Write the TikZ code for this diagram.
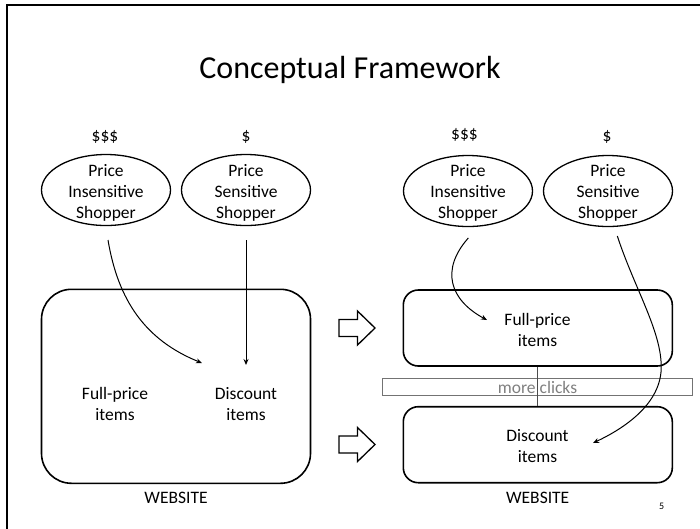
\documentclass[tikz,border=0pt]{standalone}
\usepackage{fontspec}
\setmainfont{Carlito}
\usetikzlibrary{shapes.geometric,arrows.meta}
\begin{document}
\begin{tikzpicture}[x=1pt,y=-1pt,
  txt/.style={font=\fontsize{17.5}{21}\selectfont, align=center, inner sep=0pt},
  shopper/.style={draw, ellipse, line width=1.3pt, minimum width=129pt, minimum height=71pt, inner sep=0pt},
  site/.style={draw, line width=1.6pt, rounded corners=#1, inner sep=0pt},
  conn/.style={line width=1pt, -{Stealth[length=6pt,width=5pt]}},
  blockarrow/.style={draw, line width=1.3pt, fill=white, line join=miter}
]
\useasboundingbox (0,0) rectangle (700,528);
% frame
\draw[line width=1.8pt] (7.3,4.7) rectangle (704,534);
% title
\node[font=\fontsize{32}{38}\selectfont, inner sep=0pt] (title) at (350,70) {Conceptual Framework};

% ===== left side =====
\node[txt] (d1) at (105,137) {\$\$\$};
\node[txt] (d2) at (246,137) {\$};
\node[shopper] (e1) at (106,190) {};
\node[shopper] (e2) at (246,190) {};
\node[txt] (t1) at (106,193) {Price\\Insensitive\\Shopper};
\node[txt] (t2) at (246,193) {Price\\Sensitive\\Shopper};

\node[site=30pt, minimum width=269pt, minimum height=194pt] (web1) at (176,386.3) {};
\node[txt] (fp1) at (115,404) {Full-price\\items};
\node[txt] (dc1) at (246,404) {Discount\\items};
\node[txt] (w1) at (176,498) {WEBSITE};

\coordinate (s1) at (108,240);
\coordinate (s2) at (246,240);
\coordinate (a1) at (202,363);
\coordinate (a2) at (246,365);
\draw[conn] (s1) .. controls (118,300) and (145,340) .. (a1);
\draw[conn] (s2) -- (a2);

% block arrows
\draw[blockarrow] (339,319.5) -- (357.5,319.5) -- (357.5,311) -- (375,328) -- (357.5,345) -- (357.5,336.5) -- (339,336.5) -- cycle;
\draw[blockarrow] (339,436) -- (357.5,436) -- (357.5,427.5) -- (375,444.5) -- (357.5,461.5) -- (357.5,453) -- (339,453) -- cycle;

% ===== right side =====
\node[txt] (d3) at (464.5,135) {\$\$\$};
\node[txt] (d4) at (607,137) {\$};
\node[shopper] (e3) at (468,191) {};
\node[shopper] (e4) at (608,191) {};
\node[txt] (t3) at (468,193) {Price\\Insensitive\\Shopper};
\node[txt] (t4) at (608,193) {Price\\Sensitive\\Shopper};

\node[site=15pt, minimum width=269pt, minimum height=76pt] (fpbox) at (537.8,328) {};
\node[site=15pt, minimum width=269pt, minimum height=76pt] (dcbox) at (537.8,444.7) {};
\node[txt] (fp2) at (537.5,330) {Full-price\\items};
\node[txt] (dc2) at (537.5,446) {Discount\\items};
\node[txt] (w2) at (537.7,498.3) {WEBSITE};
\node[font=\fontsize{10}{12}\selectfont, inner sep=0pt] (pg) at (661.7,506.7) {5};

% more clicks bar
\node[draw=black!55, line width=0.9pt, minimum width=309.6pt, minimum height=17.4pt, inner sep=0pt] (bar) at (537.5,387) {};
\node[txt, text=black!50, anchor=base] (mc) at (537.5,393) {more clicks};
\draw[black!70, line width=0.9pt] (fpbox.south) -- (dcbox.north);

\coordinate (s3) at (468.3,238);
\coordinate (s4) at (617.3,236);
\coordinate (a3) at (487,320);
\coordinate (a4) at (593,443);
\coordinate (m4) at (661,372);
\draw[conn] (s3) .. controls (440,270) and (450,300) .. (a3);
\draw[line width=1pt] (s4) .. controls (635,290) and (664,335) .. (m4);
\draw[conn] (m4) .. controls (658,405) and (625,428) .. (a4);
\end{tikzpicture}
\end{document}
